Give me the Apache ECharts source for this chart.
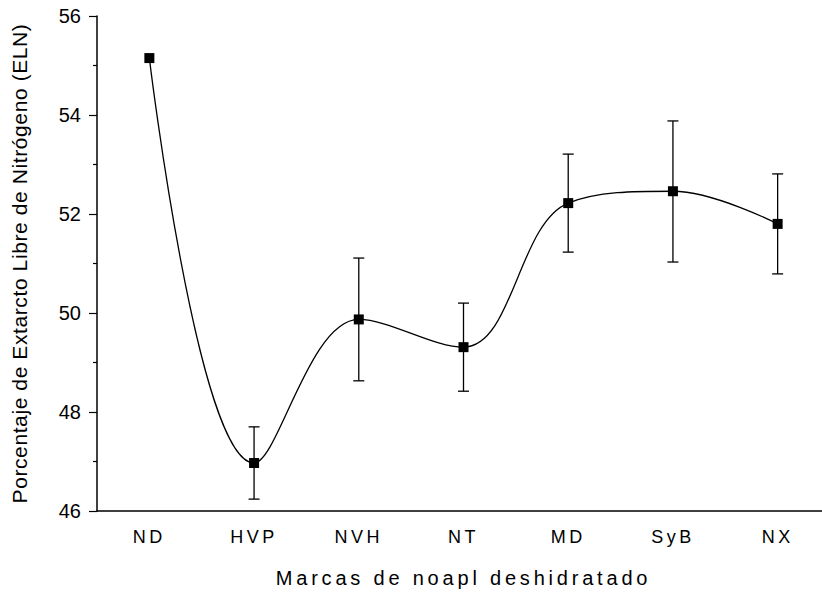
<!DOCTYPE html>
<html>
<head>
<meta charset="utf-8">
<script src="https://cdn.jsdelivr.net/npm/echarts@6/dist/echarts.min.js"></script>
<style>
html,body{margin:0;padding:0;background:#fff;}
#chart{width:822px;height:593px;}
</style>
</head>
<body>
<div id="chart"></div>
<script>
var categories = ['ND', 'HVP', 'NVH', 'NT', 'MD', 'SyB', 'NX'];
var values = [55.15, 46.97, 49.87, 49.31, 52.22, 52.46, 51.80];
var errLow = [null, 46.24, 48.63, 48.42, 51.23, 51.03, 50.79];
var errHigh = [null, 47.70, 51.11, 50.20, 53.21, 53.88, 52.81];
var yTicks = [46, 48, 50, 52, 54, 56];

var xName = 'Marcas de noapl deshidratado';
var yName = 'Porcentaje de Extarcto Libre de Nitrógeno (ELN)';

var errData = [];
for (var i = 0; i < categories.length; i++) {
  if (errLow[i] != null) errData.push([i, errLow[i], errHigh[i]]);
}

var chart = echarts.init(document.getElementById('chart'), null, {renderer: 'svg'});
var font = 'Liberation Sans, Arial, sans-serif';
var option = {
  animation: false,
  backgroundColor: '#fff',
  grid: {left: 97, top: 16, width: 733, height: 495, containLabel: false, outerBoundsMode: 'none'},
  xAxis: [{
    type: 'category',
    data: categories,
    boundaryGap: true,
    axisLine: {lineStyle: {color: '#000', width: 1.5}},
    axisTick: {alignWithLabel: true, length: 8, lineStyle: {color: '#000', width: 1.2}},
    axisLabel: {color: '#000', fontSize: 18, fontFamily: font, margin: 17},
    name: xName,
    nameLocation: 'middle',
    nameGap: 57,
    nameTextStyle: {color: '#000', fontSize: 20, fontFamily: font},
    splitLine: {show: false}
  }, {
    type: 'category',
    data: categories,
    boundaryGap: true,
    position: 'bottom',
    axisLine: {show: false},
    axisTick: {alignWithLabel: false, length: 4, lineStyle: {color: '#000', width: 1.2}},
    axisLabel: {show: false},
    splitLine: {show: false}
  }],
  yAxis: {
    type: 'value',
    min: 46,
    max: 56,
    interval: 2,
    axisLine: {show: true, lineStyle: {color: '#000', width: 1.5}},
    axisTick: {show: true, length: 8, lineStyle: {color: '#000', width: 1.2}},
    minorTick: {show: true, splitNumber: 2, length: 4, lineStyle: {color: '#000', width: 1.2}},
    splitLine: {show: false},
    minorSplitLine: {show: false},
    axisLabel: {color: '#000', fontSize: 20, fontFamily: font, margin: 16,
      formatter: function (v) { return yTicks.indexOf(v) >= 0 ? String(v) : ''; }},
    name: yName,
    nameLocation: 'middle',
    nameGap: 67,
    nameTextStyle: {color: '#000', fontSize: 21, fontFamily: font}
  },
  series: [{
    type: 'line',
    data: values,
    smooth: 0.38,
    symbol: 'rect',
    symbolSize: 10,
    itemStyle: {color: '#000'},
    lineStyle: {color: '#000', width: 1.3},
    z: 3
  }, {
    type: 'custom',
    data: errData,
    z: 2,
    renderItem: function (params, api) {
      var lo = api.coord([api.value(0), api.value(1)]);
      var hi = api.coord([api.value(0), api.value(2)]);
      var w = 5.5;
      var st = {stroke: '#000', lineWidth: 1.3};
      return {
        type: 'group',
        children: [
          {type: 'line', shape: {x1: lo[0], y1: lo[1], x2: hi[0], y2: hi[1]}, style: st},
          {type: 'line', shape: {x1: lo[0] - w, y1: lo[1], x2: lo[0] + w, y2: lo[1]}, style: st},
          {type: 'line', shape: {x1: hi[0] - w, y1: hi[1], x2: hi[0] + w, y2: hi[1]}, style: st}
        ]
      };
    }
  }]
};
chart.setOption(option);

function spaceText() {
  var texts = document.querySelectorAll('#chart svg text');
  texts.forEach(function (t) {
    var s = t.textContent;
    if (s === xName) t.style.letterSpacing = '3.8px';
    else if (s === yName) t.style.letterSpacing = '0.6px';
    else if (categories.indexOf(s) >= 0) t.style.letterSpacing = '3.5px';
  });
}
spaceText();
chart.on('finished', spaceText);
</script>
</body>
</html>
